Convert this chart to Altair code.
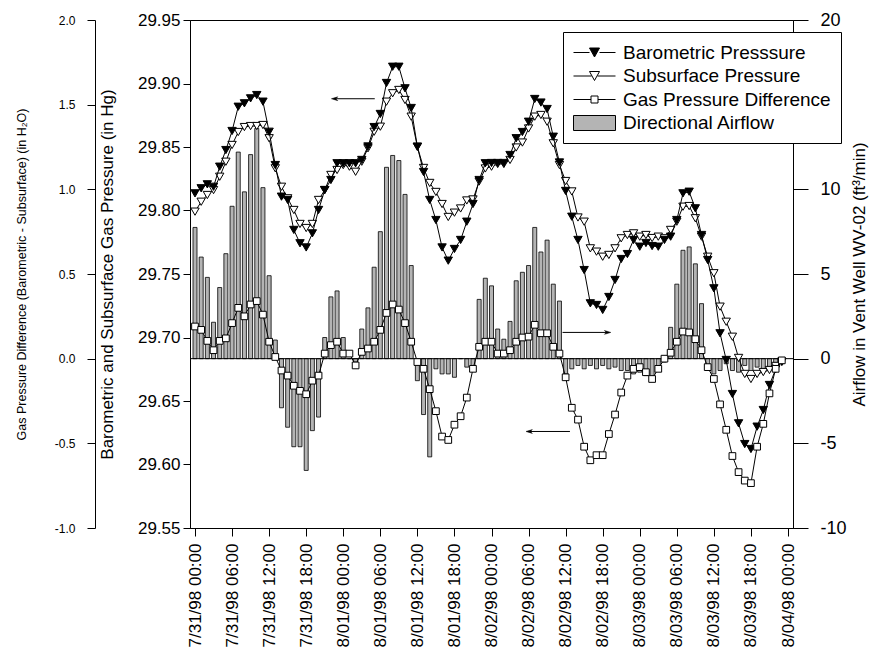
import json
import altair as alt
import pandas as pd

FONT = "Liberation Sans"

# ---------------- data (hourly readings, 7/31/98 00:00 = hour 0) ----------------
hours = list(range(96))

barometric = [
    29.8135, 29.8175, 29.8206, 29.8187, 29.8345, 29.8476, 29.8626, 29.8817, 29.8844, 29.8883,
    29.8909, 29.8857, 29.8620, 29.8358, 29.8109, 29.8083, 29.7847, 29.7742, 29.7709, 29.7820,
    29.8004, 29.8161, 29.8240, 29.8372, 29.8372, 29.8372, 29.8372, 29.8398, 29.8504, 29.8657,
    29.8760, 29.9004, 29.9132, 29.9132, 29.8962, 29.8807, 29.8502, 29.8303, 29.8083, 29.7925,
    29.7709, 29.7605, 29.7697, 29.7768, 29.7912, 29.8051, 29.8240, 29.8372, 29.8374, 29.8374,
    29.8374, 29.8437, 29.8569, 29.8618, 29.8699, 29.8878, 29.8850, 29.8799, 29.8581, 29.8378,
    29.8154, 29.7951, 29.7768, 29.7531, 29.7269, 29.7256, 29.7217, 29.7319, 29.7453, 29.7618,
    29.7657, 29.7768, 29.7715, 29.7744, 29.7720, 29.7715, 29.7768, 29.7794, 29.7925, 29.8135,
    29.8148, 29.8017, 29.7807, 29.7610, 29.7387, 29.7033, 29.6823, 29.6555, 29.6324, 29.6161,
    29.6122, 29.6298, 29.6429, 29.6626, 29.6750, 29.6809,
]

subsurface = [
    29.7991, 29.8069, 29.8122, 29.8161, 29.8266, 29.8384, 29.8516, 29.8618, 29.8657, 29.8665,
    29.8665, 29.8673, 29.8569, 29.8332, 29.8187, 29.8096, 29.8004, 29.7894, 29.7862, 29.7894,
    29.8083, 29.8161, 29.8280, 29.8319, 29.8358, 29.8345, 29.8305, 29.8384, 29.8490, 29.8620,
    29.8660, 29.8857, 29.8923, 29.8949, 29.8870, 29.8739, 29.8502, 29.8335, 29.8217, 29.8146,
    29.8051, 29.7949, 29.7983, 29.8016, 29.8079, 29.8087, 29.8228, 29.8331, 29.8345, 29.8366,
    29.8366, 29.8398, 29.8496, 29.8535, 29.8646, 29.8739, 29.8752, 29.8699, 29.8529, 29.8358,
    29.8232, 29.8150, 29.7945, 29.7912, 29.7702, 29.7676, 29.7636, 29.7650, 29.7702, 29.7781,
    29.7807, 29.7820, 29.7794, 29.7807, 29.7783, 29.7794, 29.7781, 29.7847, 29.7912, 29.8030,
    29.8035, 29.7939, 29.7794, 29.7636, 29.7506, 29.7243, 29.7124, 29.7006, 29.6839, 29.6713,
    29.6673, 29.6713, 29.6728, 29.6744, 29.6776, 29.6809,
]

gas_diff = [
    0.19, 0.17, 0.105, 0.05, 0.105, 0.12, 0.21, 0.30, 0.25, 0.32,
    0.34, 0.26, 0.10, 0.01, -0.07, -0.10, -0.16, -0.19, -0.21, -0.13,
    -0.10, 0.03, 0.08, 0.10, 0.03, 0.03, -0.04, 0.04, 0.06, 0.10,
    0.17, 0.27, 0.32, 0.29, 0.21, 0.10, -0.02, -0.06, -0.18, -0.31,
    -0.46, -0.48, -0.39, -0.34, -0.23, -0.06, 0.07, 0.10, 0.10, 0.03,
    0.03, 0.05, 0.10, 0.125, 0.13, 0.20, 0.15, 0.15, 0.07, 0.03,
    -0.11, -0.29, -0.36, -0.52, -0.60, -0.57, -0.57, -0.445, -0.33, -0.20,
    -0.10, -0.06, -0.05, -0.08, -0.12, -0.06, 0.0, 0.035, 0.10, 0.16,
    0.155, 0.115, 0.05, -0.05, -0.12, -0.27, -0.42, -0.575, -0.67, -0.72,
    -0.735, -0.52, -0.385, -0.205, -0.06, -0.01,
]

airflow = [
    7.75, 6.0, 4.8, 2.15, 4.2, 6.2, 9.0, 12.2, 9.85, 12.05,
    13.6, 10.1, 4.9, 1.1, -2.9, -4.05, -5.2, -5.2, -6.6, -4.25,
    -3.45, 1.25, 3.65, 4.0, 1.25, 0.0, -0.2, 1.75, 3.0, 5.4,
    7.5, 11.3, 12.0, 11.7, 9.7, 5.5, -1.3, -3.3, -5.8, -0.6,
    -0.9, -0.9, -1.1, 0.0, -0.5, -0.5, 3.5, 4.75, 4.3, 1.75,
    1.15, 2.2, 4.6, 5.1, 5.5, 7.75, 6.3, 7.0, 4.4, 3.4,
    -0.9, -0.6, -0.4, -0.6, -0.4, -0.6, -0.4, -0.6, -0.5, -0.7,
    -0.7, -0.9, -0.8, -1.0, -1.1, -0.5, -0.2, 1.85, 4.4, 6.4,
    6.6, 5.6, 3.25, -0.4, -0.9, -0.7, -0.3, -0.7, -0.8, -0.4,
    -0.7, -0.5, -0.7, -0.6, -0.5, -0.3,
]

tick_hours = list(range(0, 97, 6))
tick_labels = [
    "7/31/98 00:00", "7/31/98 06:00", "7/31/98 12:00", "7/31/98 18:00",
    "8/01/98 00:00", "8/01/98 06:00", "8/01/98 12:00", "8/01/98 18:00",
    "8/02/98 00:00", "8/02/98 06:00", "8/02/98 12:00", "8/02/98 18:00",
    "8/03/98 00:00", "8/03/98 06:00", "8/03/98 12:00", "8/03/98 18:00",
    "8/04/98 00:00",
]
press_ticks = [29.55, 29.60, 29.65, 29.70, 29.75, 29.80, 29.85, 29.90, 29.95]
gas_ticks = [-1.0, -0.5, 0.0, 0.5, 1.0, 1.5, 2.0]
air_ticks = [-10, -5, 0, 5, 10, 20]   # the 15 tick sits under the legend box

legend_names = ["Barometric Presssure", "Subsurface Pressure",
                "Gas Pressure Difference", "Directional Airflow"]
legend_fills = ["black", "white", "white", "#b4b4b4"]

# annotation arrows (x in hours, y in the units of the axis they point to)
arrow_axis = ["pressure", "airflow", "gas"]
arrow_x0 = [22.6, 59.5, 54.1]
arrow_x1 = [29.1, 66.8, 60.7]
arrow_y = [29.888, 1.55, -0.43]
arrow_dir = ["left", "right", "left"]

# ---------------- tables ----------------
df = pd.DataFrame({"hour": hours, "baro": barometric, "sub": subsurface,
                   "gas": gas_diff, "air": airflow})
arrows = pd.DataFrame({"axis": arrow_axis, "x0": arrow_x0, "x1": arrow_x1,
                       "y": arrow_y, "dir": arrow_dir})
arrows["tip"] = [a if d == "left" else b for a, b, d in zip(arrow_x0, arrow_x1, arrow_dir)]
legend_df = pd.DataFrame({"series": legend_names})

# ---------------- shared encodings ----------------
x_scale = alt.Scale(domain=[0, 96], nice=False, zero=False)
x_axis = alt.Axis(
    values=tick_hours,
    labelExpr=json.dumps(tick_labels) + "[round(datum.value/6)]",
    labelAngle=270, labelFontSize=17, labelFont=FONT, labelColor="black",
    tickSize=8, tickColor="black", domainColor="black", labelPadding=7,
    grid=False, title="",
)


def X(field):
    return alt.X(f"{field}:Q", scale=x_scale, axis=x_axis)


p_scale = alt.Scale(domain=[29.55, 29.95], nice=False, zero=False)
p_axis = alt.Axis(
    orient="left", values=press_ticks, format=".2f", grid=False,
    labelFontSize=17, labelFont=FONT, labelColor="black", labelPadding=3,
    tickSize=7, tickColor="black", domainColor="black",
    title="Barometric and Subsurface Gas Pressure (in Hg)",
    titleFont=FONT, titleFontSize=17, titleFontWeight="normal", titleColor="black",
    titlePadding=21,
)

g_scale = alt.Scale(domain=[-1.0, 2.0], nice=False, zero=False)
g_axis = alt.Axis(
    orient="left", offset=95, values=gas_ticks, grid=False,
    labelExpr="replace(format(datum.value, '.1f'), '\u2212', '-')",
    labelFontSize=12, labelFont=FONT, labelColor="black", labelPadding=12,
    tickSize=8, tickColor="black", domainColor="black",
    title="Gas Pressure Difference (Barometric - Subsurface) (in H\u2082O)",
    titleFont=FONT, titleFontSize=12.5, titleFontWeight="normal", titleColor="black",
    titlePadding=26,
)

a_scale = alt.Scale(domain=[-10, 20], nice=False, zero=False)
a_axis = alt.Axis(
    orient="right", values=air_ticks, grid=False,
    labelExpr="toString(datum.value)",
    labelFontSize=18, labelFont=FONT, labelColor="black", labelPadding=12,
    tickSize=15, tickColor="black", domainColor="black",
    title="Airflow in Vent Well WV-02 (ft\u00b3/min)", titleAngle=270,
    titleFont=FONT, titleFontSize=17, titleFontWeight="normal", titleColor="black",
    titlePadding=22,
)

arrow_left_path = "M-1,0L1,-0.6L0.4,0L1,0.6Z"
arrow_right_path = "M1,0L-1,-0.6L-0.4,0L-1,0.6Z"


def arrow_layers(axis_name, y_enc_fn):
    sub = arrows[arrows["axis"] == axis_name]
    base = alt.Chart(sub)
    rule = base.mark_rule(color="black", strokeWidth=1).encode(
        x=X("x0"), x2="x1:Q", y=y_enc_fn("y"))
    shape = arrow_left_path if sub["dir"].iloc[0] == "left" else arrow_right_path
    head = base.mark_point(shape=shape, filled=True, fill="black", stroke="black",
                           strokeWidth=0.5, size=40, opacity=1).encode(
        x=X("tip"), y=y_enc_fn("y"))
    return [rule, head]


# ---------------- airflow bars (right axis) ----------------
def YA(field):
    return alt.Y(f"{field}:Q", scale=a_scale, axis=a_axis)


bars = alt.Chart(df).mark_bar(width=4, color="#b4b4b4", stroke="black",
                              strokeWidth=0.8).encode(x=X("hour"), y=YA("air"),
                                                      y2=alt.datum(0))
zero_rule = alt.Chart(pd.DataFrame({"air": [0]})).mark_rule(
    color="black", strokeWidth=1).encode(y=YA("air"))
air_layer = alt.layer(bars, zero_rule, *arrow_layers("airflow", YA))


# ---------------- pressures (main left axis) ----------------
def YP(field):
    return alt.Y(f"{field}:Q", scale=p_scale, axis=p_axis)


base = alt.Chart(df)
sub_line = base.mark_line(color="black", strokeWidth=1).encode(x=X("hour"), y=YP("sub"))
sub_pts = base.mark_point(shape="triangle-down", filled=True, fill="white", stroke="black",
                          strokeWidth=1, size=70, opacity=1).encode(x=X("hour"), y=YP("sub"))
baro_line = base.mark_line(color="black", strokeWidth=1).encode(x=X("hour"), y=YP("baro"))
baro_pts = base.mark_point(shape="triangle-down", filled=True, fill="black", stroke="black",
                           strokeWidth=1, size=70, opacity=1).encode(x=X("hour"), y=YP("baro"))
press_layer = alt.layer(sub_line, sub_pts, baro_line, baro_pts,
                        *arrow_layers("pressure", YP))


# ---------------- gas pressure difference (outer left axis) ----------------
def YG(field):
    return alt.Y(f"{field}:Q", scale=g_scale, axis=g_axis)


gas_line = base.mark_line(color="black", strokeWidth=1).encode(x=X("hour"), y=YG("gas"))
gas_pts = base.mark_point(shape="square", filled=True, fill="white", stroke="black",
                          strokeWidth=1, size=45, opacity=1).encode(x=X("hour"), y=YG("gas"))
gas_layer = alt.layer(gas_line, gas_pts, *arrow_layers("gas", YG))

# ---------------- legend ----------------
legend_paths = [
    "M-2.1,0L-0.5,0M0.5,0L2.1,0M-0.5,-0.45L0.5,-0.45L0,0.45Z",
    "M-2.1,0L-0.3,0M0.3,0L2.1,0M-0.5,-0.45L0.5,-0.45L0,0.45Z",
    "M-2.1,0L-0.35,0M0.35,0L2.1,0M-0.35,-0.35L0.35,-0.35L0.35,0.35L-0.35,0.35Z",
    "M-2.1,-0.75L2.1,-0.75L2.1,0.75L-2.1,0.75Z",
]
leg = alt.Legend(
    orient="none", legendX=373, legendY=12, title=None,
    fillColor="white", strokeColor="black", padding=10,
    symbolSize=400, symbolStrokeColor="black", symbolStrokeWidth=1,
    symbolOpacity=1, symbolOffset=11, labelOffset=18, rowPadding=2.5,
    labelFont=FONT, labelFontSize=19, labelColor="black", labelLimit=400,
)
legend_layer = alt.Chart(legend_df).transform_filter("false").mark_point(
    filled=True, opacity=1, strokeWidth=1).encode(
    shape=alt.Shape("series:N", scale=alt.Scale(domain=legend_names, range=legend_paths),
                    legend=leg),
    fill=alt.Fill("series:N", scale=alt.Scale(domain=legend_names, range=legend_fills),
                  legend=leg),
    stroke=alt.Stroke("series:N",
                      scale=alt.Scale(domain=legend_names,
                                      range=["black", "black", "black", "black"]),
                      legend=leg),
)

chart = alt.layer(air_layer, press_layer, gas_layer, legend_layer).resolve_scale(
    y="independent"
).properties(
    width=603, height=508,
    padding={"left": 182, "top": 12, "right": 82, "bottom": 126},
    autosize=alt.AutoSizeParams(type="none"),
    background="white",
).configure_view(stroke="black", strokeWidth=1)

chart.save("out.html", embed_options={"renderer": "svg", "actions": False})
